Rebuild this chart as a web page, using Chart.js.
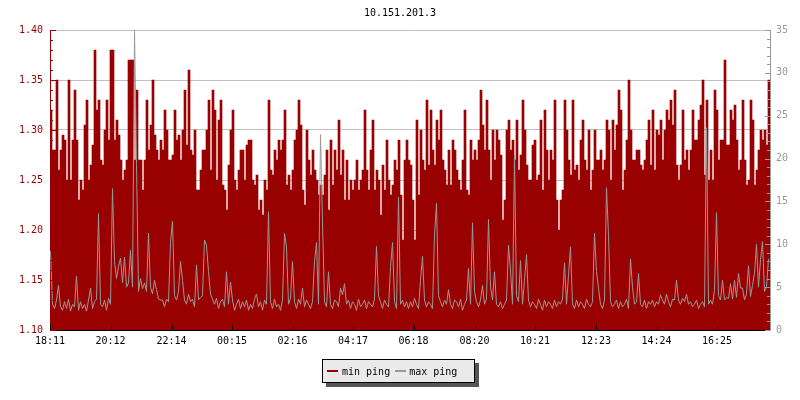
<!DOCTYPE html>
<html>
<head>
<meta charset="utf-8">
<title>10.151.201.3</title>
<script src="https://cdn.jsdelivr.net/npm/chart.js@4"></script>
<style>
    html, body { margin: 0; padding: 0; background: #fff; }
    #wrap { position: relative; width: 800px; height: 400px; }
    #legend {
        position: absolute; left: 322px; top: 359px; width: 153px; height: 24px;
        box-sizing: border-box; border: 1px solid #000; background: #eaeaea;
        box-shadow: 4px 4px 0 #555; display: flex; align-items: center;
        padding-left: 4px; font: 10px "DejaVu Sans Mono", monospace; color: #000;
        white-space: pre;
    }
    .mark { display: inline-block; width: 11px; height: 2px; }
</style>
</head>
<body>
<div id="wrap">
    <canvas id="pingChart" width="800" height="400"></canvas>
    <div id="legend">
        <span class="mark" style="background:#990000;margin-right:4px"></span><span>min ping</span>
        <span class="mark" style="background:#999999;margin-left:5px;margin-right:3px"></span><span>max ping</span>
    </div>
</div>
<script>
const chartTitle = '10.151.201.3';
const tickLabels = ['18:11', '20:12', '22:14', '00:15', '02:16', '04:17', '06:18', '08:20', '10:21', '12:23', '14:24', '16:25'];
const sampleMinutes = 4;

// min ping (ms), left axis
const minPing = [
    1.32,1.28,1.28,1.35,1.26,1.28,1.295,1.29,1.25,1.35,1.25,1.29,1.34,1.29,1.23,1.25,1.24,1.305,1.33,1.25,
    1.265,1.285,1.38,1.32,1.33,1.27,1.265,1.30,1.33,1.29,1.38,1.38,1.29,1.31,1.295,1.27,1.25,1.26,1.27,1.37,
    1.37,1.37,1.27,1.34,1.27,1.27,1.24,1.27,1.33,1.28,1.305,1.35,1.295,1.28,1.27,1.29,1.28,1.32,1.30,1.27,
    1.27,1.275,1.32,1.29,1.295,1.27,1.30,1.34,1.285,1.36,1.28,1.275,1.30,1.24,1.24,1.26,1.28,1.28,1.30,1.33,
    1.26,1.34,1.32,1.25,1.31,1.33,1.245,1.24,1.22,1.265,1.30,1.32,1.25,1.24,1.26,1.28,1.28,1.25,1.285,1.29,
    1.29,1.25,1.245,1.255,1.22,1.23,1.215,1.25,1.24,1.33,1.26,1.255,1.28,1.27,1.29,1.28,1.29,1.32,1.245,1.255,
    1.24,1.26,1.29,1.30,1.33,1.305,1.24,1.225,1.30,1.27,1.255,1.28,1.26,1.25,1.235,1.245,1.235,1.255,1.28,1.22,
    1.29,1.245,1.28,1.26,1.31,1.255,1.28,1.23,1.27,1.23,1.25,1.24,1.25,1.27,1.24,1.25,1.26,1.32,1.26,1.24,
    1.28,1.31,1.24,1.26,1.25,1.215,1.265,1.24,1.29,1.25,1.235,1.245,1.27,1.26,1.29,1.235,1.19,1.27,1.29,1.27,
    1.265,1.23,1.19,1.31,1.235,1.30,1.27,1.26,1.33,1.265,1.32,1.28,1.265,1.31,1.29,1.32,1.27,1.26,1.245,1.28,
    1.245,1.29,1.28,1.26,1.25,1.24,1.27,1.32,1.24,1.235,1.29,1.27,1.28,1.27,1.29,1.34,1.305,1.28,1.33,1.28,
    1.25,1.30,1.27,1.30,1.29,1.275,1.21,1.23,1.30,1.31,1.28,1.29,1.27,1.31,1.26,1.275,1.33,1.30,1.265,1.25,
    1.25,1.285,1.29,1.25,1.255,1.31,1.24,1.32,1.28,1.25,1.28,1.27,1.33,1.23,1.20,1.23,1.24,1.33,1.30,1.27,
    1.255,1.33,1.26,1.265,1.25,1.29,1.31,1.27,1.26,1.30,1.24,1.26,1.30,1.27,1.27,1.28,1.26,1.27,1.31,1.30,
    1.25,1.31,1.28,1.305,1.34,1.32,1.24,1.26,1.29,1.35,1.30,1.27,1.27,1.28,1.28,1.265,1.26,1.27,1.29,1.31,
    1.265,1.32,1.26,1.30,1.295,1.31,1.27,1.30,1.32,1.31,1.33,1.305,1.34,1.265,1.25,1.265,1.32,1.27,1.28,1.26,
    1.28,1.32,1.29,1.29,1.31,1.325,1.35,1.255,1.33,1.25,1.28,1.25,1.34,1.32,1.27,1.29,1.29,1.37,1.285,1.285,
    1.32,1.31,1.325,1.29,1.26,1.27,1.33,1.27,1.245,1.25,1.33,1.31,1.245,1.26,1.28,1.30,1.29,1.30,1.285,1.35
];

// max ping (ms), right axis
const maxPing = [
    9.3,3.0,2.5,3.5,5.2,2.7,2.3,3.3,2.5,3.6,2.2,3.0,2.7,6.3,2.3,3.3,2.5,3.0,2.2,3.5,
    4.9,2.5,3.3,3.6,13.6,3.0,2.7,3.5,2.3,3.7,3.0,16.5,8.0,6.0,7.4,8.4,5.5,8.5,5.0,5.5,
    9.3,5.0,35,19.3,4.5,6.0,4.8,5.5,4.5,11.3,5.0,4.2,5.8,4.7,3.6,3.5,3.5,2.7,3.6,3.3,
    10.2,12.7,4.0,3.5,4.5,8.0,5.8,3.5,3.0,4.2,3.3,3.6,2.7,7.6,3.5,3.8,4.0,10.5,9.9,6.8,
    4.2,3.6,3.0,3.7,2.5,3.3,3.6,2.7,6.8,3.0,5.6,3.5,2.3,3.0,3.6,2.5,3.3,2.7,3.5,2.3,
    3.0,2.5,3.6,4.2,2.7,3.3,2.3,3.5,3.0,13.8,3.3,2.5,3.6,2.7,3.0,2.3,3.5,11.3,9.7,3.0,
    3.7,8.0,3.3,2.5,3.6,3.0,4.9,2.7,3.5,3.0,2.5,3.3,8.0,10.2,3.0,22.8,12.6,3.3,2.7,6.8,
    3.0,2.5,3.5,3.3,2.7,4.9,4.1,5.4,3.0,3.5,2.5,3.3,3.0,2.3,3.6,2.7,3.0,3.5,2.5,3.3,
    3.0,2.7,3.6,9.8,4.0,3.3,2.5,3.5,3.0,2.7,7.4,10.2,3.3,2.5,15.5,3.0,3.5,2.7,3.3,2.5,
    3.3,2.7,3.7,3.0,2.5,5.8,8.6,3.5,2.7,3.3,3.0,2.5,11.1,14.8,4.0,3.3,2.7,3.5,3.0,4.7,
    3.0,2.5,3.5,3.3,2.7,3.6,2.3,3.0,3.5,7.2,3.0,12.5,4.5,3.3,2.7,3.5,5.2,3.0,3.6,12.9,
    5.0,3.5,6.8,3.0,2.7,3.3,2.5,3.0,3.5,9.9,7.0,3.0,20.4,4.0,3.3,8.1,3.0,5.8,8.8,3.5,
    2.7,3.3,3.0,2.5,3.6,3.0,2.3,3.5,2.7,3.3,3.0,2.5,3.5,2.7,3.3,3.0,3.6,7.8,3.0,6.4,
    9.7,3.0,2.5,3.5,2.7,3.3,3.0,2.5,3.6,3.0,2.7,3.3,11.3,6.8,4.9,3.0,2.5,3.5,16.6,11.0,
    3.3,2.7,3.0,3.5,2.5,3.3,2.7,3.0,3.6,2.5,8.3,5.0,3.0,3.3,6.6,3.0,2.7,3.5,2.5,3.3,
    3.0,3.5,2.7,3.3,3.0,4.1,3.5,3.0,4.2,3.3,2.7,3.6,3.5,5.8,3.5,3.0,3.7,3.3,4.2,3.0,
    3.3,2.7,3.0,3.5,2.5,3.0,3.3,2.7,23.6,3.0,3.5,3.0,4.6,13.7,4.0,3.5,5.8,3.5,3.8,3.7,
    5.4,3.6,5.8,3.8,6.6,4.9,4.9,3.5,4.2,7.5,3.9,5.2,6.6,10.0,5.0,8.2,10.3,4.5,5.0,8.3
];

const toMinutes = s => { const [h, m] = s.split(':').map(Number); return h * 60 + m; };
const startMin = toMinutes(tickLabels[0]);
const tickMinutes = tickLabels.map(s => (toMinutes(s) - startMin + 1440) % 1440);
const barX = i => i * sampleMinutes + sampleMinutes / 2;
// max samples stamped 1 min into each bucket so spike tips sit on a pixel centre
const lineX = i => i * sampleMinutes + 1;

const mono = { family: '"DejaVu Sans Mono", monospace', size: 10, weight: 'normal' };

// short tick marks pointing into the plot, like the original
const innerTicks = {
    id: 'innerTicks',
    afterDatasetsDraw(chart) {
        const { ctx, scales: { x, y, y1 } } = chart;
        ctx.save();
        ctx.lineWidth = 1;
        const line = (x0, y0, x1, y1_) => { ctx.beginPath(); ctx.moveTo(x0, y0); ctx.lineTo(x1, y1_); ctx.stroke(); };

        ctx.strokeStyle = '#990000';
        for (let k = 0; k <= 30; k++) {
            const py = Math.round(y.getPixelForValue(y.min + k * 0.01)) + 0.5;
            line(y.right, py, y.right + (k % 5 === 0 ? 6 : 3), py);
        }
        ctx.strokeStyle = '#999999';
        for (let k = 0; k <= 35; k++) {
            const py = Math.round(y1.getPixelForValue(k)) + 0.5;
            line(y1.left, py, y1.left - (k % 5 === 0 ? 5 : 3), py);
        }
        ctx.strokeStyle = '#000';
        tickMinutes.forEach(v => {
            const px = Math.round(x.getPixelForValue(v)) + 0.5;
            line(px, x.top, px, x.top - 5);
        });
        ctx.restore();
    }
};

document.addEventListener('DOMContentLoaded', function () {
    const ctx = document.getElementById('pingChart');

    new Chart(ctx, {
        type: 'bar',
        data: {
            datasets: [{
                type: 'line',
                label: 'max ping',
                data: maxPing.map((v, i) => ({ x: lineX(i), y: v })),
                yAxisID: 'y1',
                borderColor: '#999999',
                borderWidth: 1,
                pointRadius: 0,
                tension: 0
            }, {
                type: 'bar',
                label: 'min ping',
                data: minPing.map((v, i) => ({ x: barX(i), y: v })),
                yAxisID: 'y',
                backgroundColor: '#990000',
                barPercentage: 1,
                categoryPercentage: 1
            }]
        },
        options: {
            responsive: false,
            animation: false,
            layout: { padding: 0 },
            plugins: {
                legend: { display: false },
                tooltip: { enabled: false },
                title: {
                    display: true,
                    text: chartTitle,
                    color: '#000',
                    font: mono,
                    padding: { top: 7, bottom: 11 }
                }
            },
            scales: {
                x: {
                    type: 'linear',
                    min: 0,
                    max: 1440,
                    offset: false,
                    grid: { display: false, drawTicks: false },
                    border: { color: '#000' },
                    ticks: {
                        color: '#000',
                        font: mono,
                        padding: 5,
                        maxRotation: 0,
                        autoSkip: false,
                        callback: (v, i) => tickLabels[i]
                    },
                    afterBuildTicks: s => { s.ticks = tickMinutes.map(v => ({ value: v })); },
                    afterFit: s => { s.height = 70; }
                },
                y: {
                    position: 'left',
                    min: 1.10,
                    max: 1.40,
                    ticks: {
                        stepSize: 0.05,
                        color: '#990000',
                        font: mono,
                        padding: 7,
                        callback: v => Number(v).toFixed(2)
                    },
                    grid: { color: '#c0c0c0', drawTicks: false },
                    border: { color: '#990000' },
                    afterFit: s => { s.width = 50; }
                },
                y1: {
                    position: 'right',
                    min: 0,
                    max: 35,
                    ticks: { stepSize: 5, color: '#999999', font: mono, padding: 6 },
                    grid: { drawOnChartArea: false, drawTicks: false },
                    border: { color: '#999999' },
                    afterFit: s => { s.width = 30; }
                }
            }
        },
        plugins: [innerTicks]
    });
});
</script>
</body>
</html>
